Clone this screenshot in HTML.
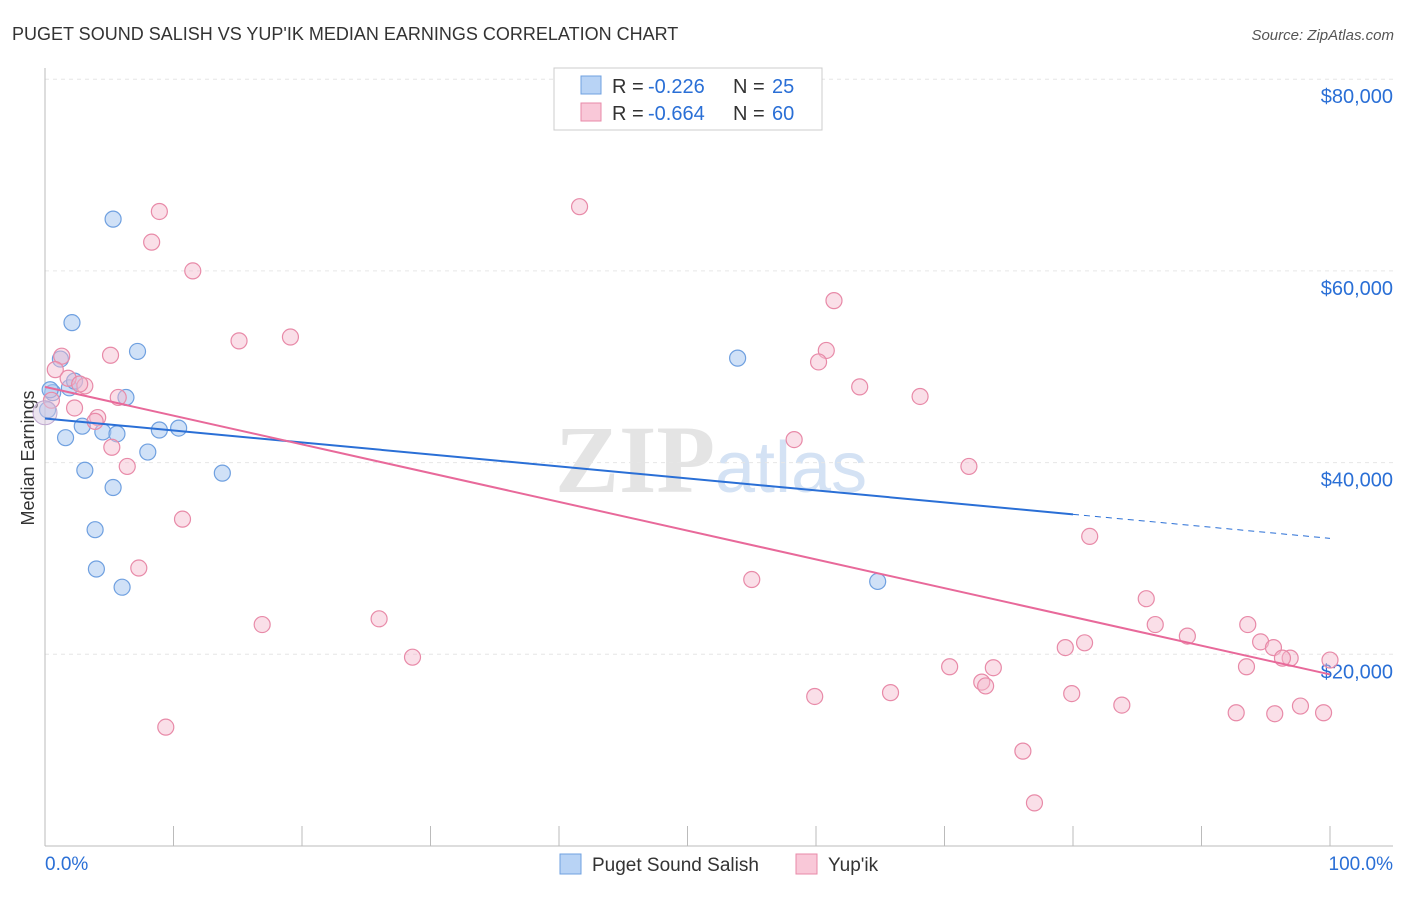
<!DOCTYPE html>
<html><head><meta charset="utf-8"><style>
body{margin:0;background:#fff;font-family:"Liberation Sans",sans-serif}
</style></head><body>
<svg id="c" width="1406" height="892" xmlns="http://www.w3.org/2000/svg" style="font-family:'Liberation Sans',sans-serif">
<text x="12" y="40" font-size="18" fill="#333">PUGET SOUND SALISH VS YUP'IK MEDIAN EARNINGS CORRELATION CHART</text>
<text x="1394" y="40" font-size="15" fill="#555" text-anchor="end" font-style="italic">Source: ZipAtlas.com</text>
<text x="555" y="492" font-size="96" fill="#e4e4e4" font-family="Liberation Serif" font-weight="bold">ZIP</text>
<text x="715" y="492" font-size="72" fill="#d4e2f4">atlas</text>
<text x="34" y="458" font-size="18" fill="#333" transform="rotate(-90 34 458)" text-anchor="middle">Median Earnings</text>
<g id="grid"></g><g id="axes"></g><g id="pts"></g><g id="lines"></g>
<g>
<rect x="554" y="68" width="268" height="62" fill="#fff" stroke="#ccc"/>
<rect x="581" y="76" width="20" height="18" fill="#b8d3f5" stroke="#6fa0e0"/>
<rect x="581" y="103" width="20" height="18" fill="#f9c8d8" stroke="#e88aa8"/>
<text x="612" y="93" font-size="20" fill="#333">R =</text>
<text x="648" y="93" font-size="20" fill="#2a6fd6">-0.226</text>
<text x="733" y="93" font-size="20" fill="#333">N =</text>
<text x="772" y="93" font-size="20" fill="#2a6fd6">25</text>
<text x="612" y="120" font-size="20" fill="#333">R =</text>
<text x="648" y="120" font-size="20" fill="#2a6fd6">-0.664</text>
<text x="733" y="120" font-size="20" fill="#333">N =</text>
<text x="772" y="120" font-size="20" fill="#2a6fd6">60</text>
</g>
<g>
<rect x="560" y="854" width="21" height="20" fill="#b8d3f5" stroke="#6fa0e0"/>
<text x="592" y="871" font-size="19" fill="#333">Puget Sound Salish</text>
<rect x="796" y="854" width="21" height="20" fill="#f9c8d8" stroke="#e88aa8"/>
<text x="828" y="871" font-size="19" fill="#333">Yup'ik</text>
</g>
<text x="45" y="870" font-size="19" fill="#2a6fd6">0.0%</text>
<text x="1393" y="870" font-size="19" fill="#2a6fd6" text-anchor="end">100.0%</text>
</svg>
<script>
const yTicks=[20000,40000,60000,80000];
const yTickLabels=["$20,000","$40,000","$60,000","$80,000"];
const bluePct=[5.3,2.1,7.2,1.2,0.6,1.9,2.3,6.3,0.2,2.9,4.5,5.6,8.9,10.4,1.6,8.0,3.1,13.8,5.3,3.9,4.0,6.0,53.9,64.8,0.4];
const blueVal=[65.4,54.6,51.6,50.8,47.3,47.8,48.5,46.8,45.5,43.8,43.2,43.0,43.4,43.6,42.6,41.1,39.2,38.9,37.4,33.0,28.9,27.0,50.9,27.6,47.6];
const pinkPct=[8.9,41.6,8.3,11.5,61.4,15.1,19.1,5.1,1.3,60.8,60.2,0.8,1.8,3.1,2.7,63.4,68.1,5.7,2.3,4.1,3.9,5.2,58.3,6.4,71.9,10.7,81.3,7.3,55.0,85.7,26.0,16.9,86.4,88.9,93.6,80.9,79.4,94.6,95.6,96.9,96.3,100,28.6,70.4,73.8,93.5,72.9,73.2,59.9,65.8,79.9,83.8,97.7,92.7,95.7,99.5,9.4,76.1,77.0,0.5];
const pinkVal=[66.2,66.7,63.0,60.0,56.9,52.7,53.1,51.2,51.1,51.7,50.5,49.7,48.8,48.0,48.2,47.9,46.9,46.8,45.7,44.7,44.3,41.6,42.4,39.6,39.6,34.1,32.3,29.0,27.8,25.8,23.7,23.1,23.1,21.9,23.1,21.2,20.7,21.3,20.7,19.6,19.6,19.4,19.7,18.7,18.6,18.7,17.1,16.7,15.6,16.0,15.9,14.7,14.6,13.9,13.8,13.9,12.4,9.9,4.5,46.5];
const blueTrend=[44.6,34.6,32.1]; // at 0%, 80%, 100%
const pinkTrend=[47.9,17.9]; // at 0%, 100%
const NS="http://www.w3.org/2000/svg";
const X=p=>45+p*12.85, Y=v=>846-v/20*191.7;
function mk(t,a,parent){const e=document.createElementNS(NS,t);for(const k in a)e.setAttribute(k,a[k]);document.getElementById(parent).appendChild(e);return e;}
yTicks.forEach((t,i)=>{
 const g=mk('line',{x1:45,x2:1393,y1:Y(t/1000),y2:Y(t/1000),stroke:'#e6e6e6','stroke-dasharray':'4 4'},'grid');
 
 
 const l=mk('text',{x:1393,y:Y(t/1000)+24,'font-size':20,fill:'#2a6fd6','text-anchor':'end'},'grid');
 l.textContent=yTickLabels[i];
 
 
});
const ax=mk('line',{x1:45,x2:45,y1:68,y2:846,stroke:'#bbb'},'axes');


const bx=mk('line',{x1:45,x2:1393,y1:846,y2:846,stroke:'#bbb'},'axes');


for(let i=0;i<=10;i++){
 const t=mk('line',{x1:X(i*10),x2:X(i*10),y1:826,y2:846,stroke:'#bbb'},'axes');
 
 
}
bluePct.forEach((p,i)=>{
 const c=mk('circle',{cx:X(p),cy:Y(blueVal[i]),r:8,fill:'#a9c8f0','fill-opacity':0.55,stroke:'#6fa0e0','stroke-width':1.2},'pts');
 
 
});
pinkPct.forEach((p,i)=>{
 const c=mk('circle',{cx:X(p),cy:Y(pinkVal[i]),r:8,fill:'#f5b8cc','fill-opacity':0.45,stroke:'#e88aa8','stroke-width':1.2},'pts');
 
 
});
const big=mk('circle',{cx:X(0),cy:Y(45.2),r:12,fill:'#d8c8e0','fill-opacity':0.5,stroke:'#c0a8d0'},'pts');


const b1=mk('line',{x1:X(0),y1:Y(blueTrend[0]),x2:X(80),y2:Y(blueTrend[1]),stroke:'#2a6fd6','stroke-width':2},'lines');


const b2=mk('line',{x1:X(80),y1:Y(blueTrend[1]),x2:X(100),y2:Y(blueTrend[2]),stroke:'#2a6fd6','stroke-width':1,'stroke-dasharray':'6 5'},'lines');


const p1=mk('line',{x1:X(0),y1:Y(pinkTrend[0]),x2:X(100),y2:Y(pinkTrend[1]),stroke:'#e8699a','stroke-width':2},'lines');


</script>
</body></html>
